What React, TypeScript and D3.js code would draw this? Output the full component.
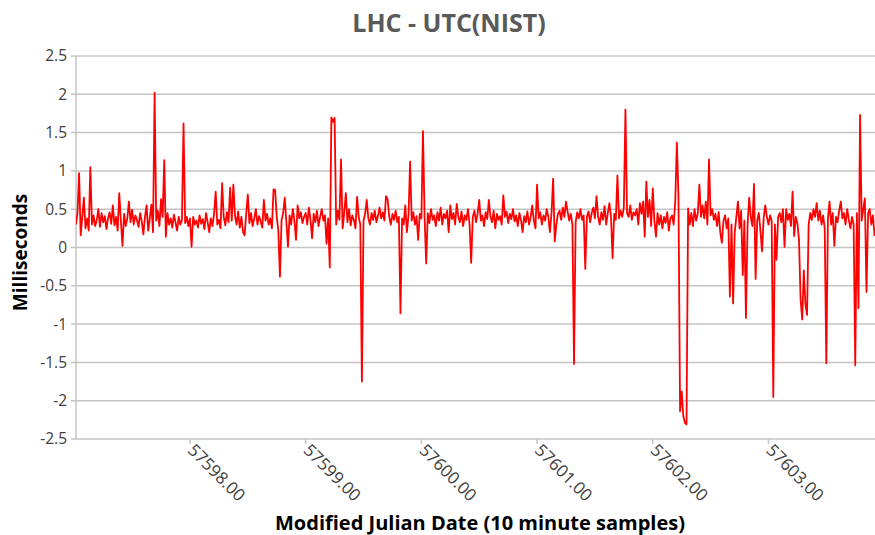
import React from "react";
import * as d3 from "d3";

// LHC - UTC(NIST) at 20 minute steps (72 per day)
const dayStarts = [57597, 57598, 57599, 57600, 57601, 57602, 57603];
const firstSlot = [1, 0, 0, 0, 0, 0, 0];

const day57597 = [
  0.3, 0.45, 0.97, 0.16, 0.4, 0.65, 0.25, 0.38, 0.22, 1.05, 0.3, 0.42, 0.28, 0.36, 0.5, 0.27,
  0.45, 0.33, 0.41, 0.24, 0.38, 0.46, 0.31, 0.55, 0.29, 0.4, 0.22, 0.71, 0.35, 0.02, 0.44, 0.28,
  0.38, 0.6, 0.33, 0.49, 0.3, 0.42, 0.36, 0.27, 0.45, 0.34, 0.17, 0.4, 0.55, 0.22, 0.38, 0.56,
  0.2, 2.02, 0.35, 0.48, 0.28, 0.63, 0.4, 1.14, 0.14, 0.45, 0.3, 0.38, 0.26, 0.43, 0.33, 0.22,
  0.4, 0.3, 0.36, 1.62, 0.32, 0.4, 0.28,
];
const day57598 = [
  0.38, 0.01, 0.4, 0.3, 0.35, 0.26, 0.42, 0.31, 0.37, 0.24, 0.45, 0.33, 0.2, 0.38, 0.28, 0.44,
  0.73, 0.3, 0.36, 0.25, 0.84, 0.4, 0.29, 0.46, 0.33, 0.78, 0.35, 0.82, 0.42, 0.3, 0.47, 0.26,
  0.4, 0.2, 0.16, 0.44, 0.69, 0.32, 0.45, 0.28, 0.38, 0.5, 0.3, 0.41, 0.34, 0.26, 0.62, 0.35,
  0.44, 0.3, 0.38, 0.25, 0.76, 0.75, 0.4, 0.22, -0.38, 0.36, 0.45, 0.65, 0.33, 0.01, 0.42, 0.3,
  0.5, 0.35, 0.1, 0.55, 0.38, 0.46, 0.32, 0.4,
];
const day57599 = [
  0.45, 0.3, 0.52, 0.36, 0.12, 0.44, 0.33, 0.48, 0.28, 0.4, 0.5, 0.35, 0.42, 0.05, 0.38, -0.26,
  1.7, 1.64, 1.69, 0.3, 0.48, 0.36, 1.15, 0.25, 0.45, 0.71, 0.33, 0.5, 0.29, 0.42, 0.36, 0.25,
  0.66, 0.4, 0.3, -1.75, 0.35, 0.44, 0.62, 0.38, 0.3, 0.45, 0.36, 0.48, 0.33, 0.41, 0.52, 0.38,
  0.46, 0.35, 0.67, 0.63, 0.4, 0.3, 0.44, 0.36, 0.48, 0.33, 0.4, -0.86, 0.38, 0.3, 0.55, 0.2,
  0.42, 1.12, 0.35, 0.46, 0.3, 0.41, 0.1, 0.44,
];
const day57600 = [
  0.38, 1.52, 0.4, -0.21, 0.45, 0.32, 0.5, 0.36, 0.42, 0.28, 0.46, 0.35, 0.52, 0.3, 0.44, 0.38,
  0.48, 0.2, 0.55, 0.37, 0.45, 0.3, 0.57, 0.4, 0.33, 0.47, 0.28, 0.42, 0.36, 0.5, 0.3, -0.2,
  0.4, 0.48, 0.33, 0.44, 0.62, 0.35, 0.42, 0.28, 0.46, 0.37, 0.62, 0.4, 0.33, 0.48, 0.25, 0.44,
  0.36, 0.41, 0.3, 0.68, 0.4, 0.47, 0.32, 0.44, 0.37, 0.5, 0.34, 0.42, 0.28, 0.45, 0.36, 0.2,
  0.41, 0.33, 0.47, 0.3, 0.4, 0.55, 0.35, 0.25,
];
const day57601 = [
  0.82, 0.38, 0.46, 0.3, 0.42, 0.35, 0.5, 0.4, 0.2, 0.45, 0.9, 0.08, 0.3, 0.44, 0.48, 0.36,
  0.52, 0.4, 0.6, 0.47, 0.35, 0.44, 0.3, -1.52, 0.33, 0.46, 0.38, 0.5, 0.36, 0.42, -0.28, 0.4,
  0.47, 0.33, 0.45, 0.52, 0.38, 0.67, 0.4, 0.3, 0.46, 0.36, 0.54, 0.3, 0.45, 0.58, 0.4, -0.14,
  0.44, 0.36, 0.94, 0.38, 0.48, 0.4, 0.52, 1.8, 0.45, 0.4, 0.55, 0.36, 0.46, 0.42, 0.5, 0.3,
  0.58, 0.44, 0.6, 0.14, 0.86, 0.4, 0.62, 0.28,
];
const day57602 = [
  0.77, 0.35, 0.14, 0.45, 0.3, 0.42, 0.25, 0.4, 0.32, 0.46, 0.22, 0.38, 0.42, 0.3, 0.6, 1.37,
  0.66, -2.14, -1.88, -2.2, -2.29, -2.31, 0.51, 0.3, 0.45, 0.28, 0.5, 0.35, 0.44, 0.82, 0.4, 0.55,
  0.38, 0.6, 0.3, 1.15, 0.42, 0.5, 0.36, 0.44, 0.28, 0.46, 0.2, 0.06, 0.35, 0.42, 0.25, 0.38,
  -0.64, 0.3, -0.73, 0.2, 0.4, 0.6, 0.25, 0.48, -0.36, 0.35, -0.92, 0.3, 0.65, 0.4, 0.28, 0.83,
  -0.41, 0.35, 0.45, 0.22, -0.05, 0.38, 0.55, 0.4,
];
const day57603 = [
  0.3, 0.42, 0.35, -1.95, 0.3, -0.16, 0.4, 0.45, 0.33, 0.5, 0.01, 0.5, 0.36, 0.44, 0.28, 0.73,
  0.15, 0.4, 0.32, 0.1, -0.68, -0.94, -0.3, -0.74, -0.88, 0.3, 0.45, 0.36, 0.5, 0.4, 0.58, 0.35,
  0.48, 0.3, 0.42, 0.25, -1.51, 0.38, 0.6, 0.3, 0.45, 0.02, 0.4, 0.33, 0.48, 0.6, 0.38, 0.45,
  0.3, 0.5, 0.36, 0.25, 0.4, 0.3, -1.54, 0.45, -0.79, 1.73, 0.35, 0.5, 0.64, -0.58, 0.45, 0.5,
  0.3, 0.42, 0.15,
];
const dayValues = [day57597, day57598, day57599, day57600, day57601, day57602, day57603];

const xTicks = [57598, 57599, 57600, 57601, 57602, 57603];
const yTicks = [-2.5, -2, -1.5, -1, -0.5, 0, 0.5, 1, 1.5, 2, 2.5];

const width = 875;
const height = 535;
const margin = { top: 56, right: 0, bottom: 96, left: 76 };

const points: [number, number][] = [];
dayValues.forEach((vals, k) => {
  vals.forEach((v, i) => {
    points.push([dayStarts[k] + (firstSlot[k] + i) / 72, v]);
  });
});

const App = () => {
  const innerW = width - margin.left - margin.right;
  const innerH = height - margin.top - margin.bottom;

  const x = d3
    .scaleLinear()
    .domain([57597.015, 57597.015 + innerW / 115.7])
    .range([margin.left, margin.left + innerW]);
  const y = d3
    .scaleLinear()
    .domain([-2.5, 2.5])
    .range([margin.top + innerH, margin.top]);

  const line = d3
    .line<[number, number]>()
    .x((d) => x(d[0]))
    .y((d) => y(d[1]));

  const font = "'Open Sans', sans-serif";
  const fmt = d3.format(".2f");
  const grid = "#c4c4c4";

  return (
    <svg
      width={width}
      height={height}
      style={{ position: "absolute", left: 0, top: 0, background: "#fff" }}
      fontFamily={font}
    >
      <defs>
        <clipPath id="plot">
          <rect x={margin.left} y={margin.top - 2} width={innerW} height={innerH + 4} />
        </clipPath>
      </defs>

      {yTicks.map((t) => (
        <g key={t}>
          <line x1={margin.left - 5} x2={width} y1={y(t)} y2={y(t)} stroke={grid} strokeWidth={1.5} />
          <text x={margin.left - 9} y={y(t)} dy="0.35em" textAnchor="end" fontSize={15.5} fill="#404040">
            {t}
          </text>
        </g>
      ))}
      <line x1={margin.left} x2={margin.left} y1={margin.top} y2={margin.top + innerH} stroke={grid} strokeWidth={1.5} />

      {xTicks.map((t) => (
        <g key={t}>
          <line x1={x(t)} x2={x(t)} y1={y(-2.5)} y2={y(-2.5) + 5} stroke={grid} strokeWidth={1.5} />
          <text
            transform={`translate(${x(t) + 1},${y(-2.5) + 8}) rotate(45)`}
            dy="0.35em"
            fontSize={17}
            fill="#404040"
          >
            {fmt(t)}
          </text>
        </g>
      ))}

      <path d={line(points) || ""} fill="none" stroke="#ff0000" strokeWidth={1.8} strokeLinejoin="round" clipPath="url(#plot)" />

      <text x={449} y={32} textAnchor="middle" fontSize={25} fontWeight="bold" fill="#595959">
        LHC - UTC(NIST)
      </text>
      <text
        transform={`translate(27,${margin.top + innerH / 2 + 5}) rotate(-90)`}
        textAnchor="middle"
        fontSize={19}
        fontWeight="bold"
        fill="#000"
      >
        Milliseconds
      </text>
      <text x={480} y={530} textAnchor="middle" fontSize={20} fontWeight="bold" fill="#000">
        Modified Julian Date (10 minute samples)
      </text>
    </svg>
  );
};

export default App;
